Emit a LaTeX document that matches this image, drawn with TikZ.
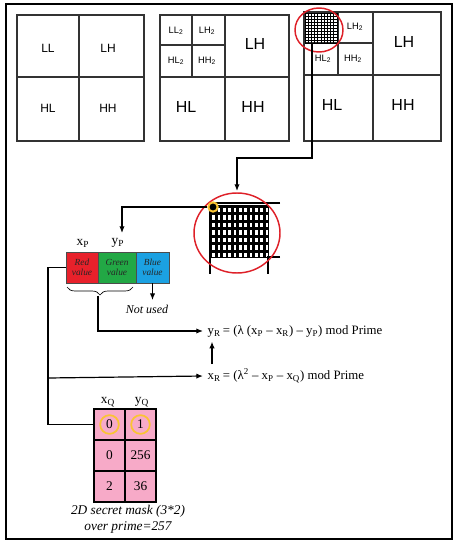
\documentclass[tikz,border=0pt]{standalone}
\usepackage{fontspec}
\setmainfont{Liberation Serif}
\setsansfont{Liberation Sans}
\usetikzlibrary{arrows.meta,decorations.pathreplacing,calc}

\definecolor{redcell}{RGB}{232,33,43}
\definecolor{greencell}{RGB}{34,168,69}
\definecolor{bluecell}{RGB}{27,161,226}
\definecolor{pinkcell}{RGB}{247,170,200}
\definecolor{ringred}{RGB}{222,32,40}
\definecolor{ringyellow}{RGB}{250,196,50}

\tikzset{
  band/.style={font=\sffamily\small},
  bigband/.style={font=\sffamily\large},
  subband/.style={font=\sffamily\scriptsize},
  boxline/.style={draw=black!80, line width=1pt},
  conn/.style={-{Latex[length=5pt,width=4pt]}, line width=0.9pt},
  wire/.style={line width=0.9pt},
  eqn/.style={anchor=west, font=\fontsize{9.6}{11}\selectfont},
  cell/.style={draw=black!70, inner sep=0pt, outer sep=0pt, minimum height=23.25pt,
    align=center, font=\scriptsize\itshape\linespread{0.9}\selectfont, text=black!85},
  maskcell/.style={draw, line width=1pt, fill=pinkcell, inner sep=0pt, outer sep=0pt,
    minimum width=23.25pt, minimum height=23.25pt},
}

\begin{document}
\begin{tikzpicture}[x=0.75pt,y=-0.75pt]
\useasboundingbox (0,0) rectangle (458,545);

% outer frame
\draw[line width=0.8pt] (6,4) rectangle (452,539);

% first level
\draw[boxline] (17,15) rectangle (144,141);
\draw[boxline] (79,15) -- (79,141) (17,77) -- (144,77);
\node[band] (ll1) at (48,48) {LL};
\node[band] (lh1) at (108,48) {LH};
\node[band] (hl1) at (48,108) {HL};
\node[band] (hh1) at (108,108) {HH};

% second level
\draw[boxline] (160,15) rectangle (289,141);
\draw[boxline] (225,15) -- (225,141) (160,77) -- (289,77);
\draw[boxline] (192,15) -- (192,77) (160,45) -- (225,45);
\node[subband] (ll2a) at (176,31) {LL\textsubscript{2}};
\node[subband] (lh2a) at (207,31) {LH\textsubscript{2}};
\node[subband] (hl2a) at (176,61) {HL\textsubscript{2}};
\node[subband] (hh2a) at (207,61) {HH\textsubscript{2}};
\node[bigband] (lh2) at (255,44) {LH};
\node[bigband] (hl2) at (186,107) {HL};
\node[bigband] (hh2) at (253,107) {HH};

% third level, LL2 hatched
\draw[boxline] (304,12) rectangle (441,141);
\draw[boxline] (373,12) -- (373,141) (304,75) -- (441,75);
\draw[boxline] (338,12) -- (338,75) (304,43) -- (373,43);
\foreach \i in {0,...,10} {
  \draw[line width=0.5pt] (305+3.2*\i,13) -- (305+3.2*\i,43);
  \draw[line width=0.5pt] (305,13+3*\i) -- (338,13+3*\i);
}
\node[subband] (lh3a) at (355,27) {LH\textsubscript{2}};
\node[subband] (hl3a) at (323,59) {HL\textsubscript{2}};
\node[subband] (hh3a) at (353,59) {HH\textsubscript{2}};
\node[bigband] (lh3) at (404,42) {LH};
\node[bigband] (hl3) at (332,105) {HL};
\node[bigband] (hh3) at (403,105) {HH};
\draw[ringred, line width=1.1pt] (319,30) ellipse [x radius=24, y radius=22];
\coordinate (ll3) at (312,43);

% enlarged LL2
\fill (210,205) rectangle (269,258);
\foreach \c in {0,...,10}
  \foreach \r in {0,...,6}
    \fill[white] (212.2+5.35*\c,207.5+7.5*\r) rectangle ++(2.6,4.8);
\draw[line width=1.5pt] (280,203) -- (210,203) -- (210,274);
\draw[line width=1.5pt] (280,257) -- (268,257) -- (268,274);
\draw[ringred, line width=1.1pt] (237,233) ellipse [x radius=43, y radius=40];
\coordinate (zoomtop) at (237,191);
\node[circle, draw=ringyellow, line width=1.5pt, fill=black, inner sep=0pt,
  minimum size=7pt] (pix) at (213,207) {};

% pixel colour channels
\node[cell, fill=redcell, minimum width=24pt] (red) at (82,267.5) {Red\\value};
\node[cell, fill=greencell, minimum width=28.5pt] (green) at (117,267.5) {Green\\value};
\node[cell, fill=bluecell, minimum width=24.75pt] (blue) at (152.5,267.5) {Blue\\value};
\node (xp) at (83,243) {x\textsubscript{P}};
\node (yp) at (118,243) {y\textsubscript{P}};
\node[font=\small\itshape] (nu) at (147,309) {Not used};
\coordinate (pixin) at (122,233);
\draw[decorate, decoration={brace, mirror, amplitude=6pt}, line width=0.5pt]
  (67,287) -- (133,287);
\coordinate (bracetip) at (98,296);

% equations
\node[eqn] (yr) at (203,331)
  {y\textsubscript{R}\,= (λ (x\textsubscript{P} – x\textsubscript{R}) – y\textsubscript{P}) mod Prime};
\node[eqn] (xr) at (203,376)
  {x\textsubscript{R}\,= (λ\textsuperscript{2} – x\textsubscript{P} – x\textsubscript{Q}) mod Prime};
\coordinate (tap) at (48,378);

% secret mask
\node (xq) at (108,402) {x\textsubscript{Q}};
\node (yq) at (142,402) {y\textsubscript{Q}};
\node[maskcell] (m11) at (109.5,424.5) {0};
\node[maskcell] (m12) at (140.5,424.5) {1};
\node[maskcell] (m21) at (109.5,455.5) {0};
\node[maskcell] (m22) at (140.5,455.5) {256};
\node[maskcell] (m31) at (109.5,486.5) {2};
\node[maskcell] (m32) at (140.5,486.5) {36};
\draw[ringyellow, line width=1.3pt] (m11.center) circle [radius=7pt];
\draw[ringyellow, line width=1.3pt] (m12.center) circle [radius=7pt];
\node[align=center, font=\itshape] (cap) at (128,519) {2D secret mask (3*2)\\over prime=257};

% connectors
\draw[conn] (ll3) -- ++(0,115) -| (zoomtop);
\draw[conn] (pix.west) -| (pixin);
\draw[conn] (blue.south) -- (blue.south |- nu.north);
\draw[conn] (bracetip) |- (yr.west);
\draw[wire] (red.west) -- ++(-18,0) |- (m11.west);
\draw[conn] (tap) -- (xr.west);
\draw[conn] ($(xr.north west)+(9,0)$) -- ($(yr.south west)+(9,0)$);
\end{tikzpicture}
\end{document}
